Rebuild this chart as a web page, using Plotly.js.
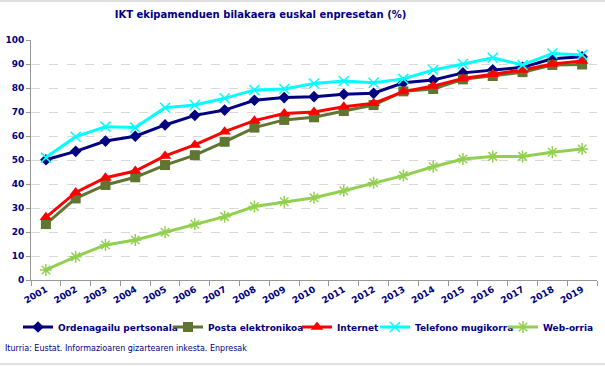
<!DOCTYPE html>
<html><head><meta charset="utf-8">
<script src="https://cdn.plot.ly/plotly-3.0.1.min.js"></script>
<style>html,body{margin:0;padding:0;background:#fff}#c{width:605px;height:366px}
#frame{position:absolute;left:0;top:0;width:605px;height:365px;border-top:2px solid #e0e0e0;border-bottom:2px solid #e0e0e0;box-sizing:border-box;pointer-events:none}</style>
</head><body><div id="c"></div><div id="frame"></div>
<script>
const years = ['2001','2002','2003','2004','2005','2006','2007','2008','2009','2010','2011','2012','2013','2014','2015','2016','2017','2018','2019'];
const ordenagailua = [50.1,53.6,57.9,59.9,64.6,68.6,70.8,74.9,76.0,76.4,77.4,77.8,82.2,83.3,86.3,87.6,88.6,92.2,93.0];
const posta = [23.3,34.0,39.6,42.8,47.9,52.0,57.6,63.5,66.7,67.8,70.4,72.9,78.6,79.6,83.6,85.0,86.6,89.6,89.8];
const internet = [26.1,36.5,42.6,45.4,51.7,56.3,61.8,66.4,69.4,70.0,72.2,73.6,78.5,80.8,84.0,85.7,87.5,90.0,91.3];
const telefonoa = [51.0,59.7,63.9,63.5,71.8,72.9,75.7,79.2,79.6,81.9,82.9,82.2,83.8,87.5,90.0,92.6,89.6,94.4,93.8];
const weba = [4.2,9.7,14.6,16.7,19.9,23.2,26.4,30.6,32.6,34.3,37.2,40.5,43.5,47.2,50.4,51.5,51.5,53.2,54.6];
const names = ['Ordenagailu pertsonala','Posta elektronikoa','Internet','Telefono mugikorra','Web-orria'];

const navy = '#000080';
const FONT = 'DejaVu Sans, Verdana, sans-serif';
function tr(y, name, color, symbol, msize, mline, leg){
  return {x: years, y: y, name: name, type:'scatter', mode:'lines+markers',
    line:{color:color, width:3},
    marker:{color:color, symbol:symbol, size:msize, line:{color:color, width:mline||0}},
    legend: leg, hoverinfo:'skip'};
}
const data = [
  tr(ordenagailua, names[0], navy, 'diamond', 9, 0, 'legend'),
  tr(posta, names[1], '#5f7530', 'square', 10, 0, 'legend2'),
  tr(internet, names[2], '#ff0000', 'triangle-up', 11, 0, 'legend3'),
  tr(telefonoa, names[3], '#00ffff', 'x-thin-open', 10, 1.5, 'legend4'),
  tr(weba, names[4], '#92d050', 'asterisk-open', 10, 1.5, 'legend5')
];
const tf = {family:FONT, size:9, color:navy, weight:'bold'};
const legFont = {family:FONT, size:9, color:navy, weight:'bold'};
function leg(textStart){
  return {orientation:'h', xref:'container', yref:'container', x:(textStart-39)/605, xanchor:'left',
    y:1-327/366, yanchor:'middle', font:legFont, itemwidth:30, bgcolor:'rgba(0,0,0,0)'};
}
const layout = {
  width:605, height:366,
  margin:{l:31, r:8, t:40, b:86, autoexpand:false},
  paper_bgcolor:'#fff', plot_bgcolor:'#fff',
  title:{text:'IKT ekipamenduen bilakaera euskal enpresetan (%)', xref:'container', x:260.5/605, xanchor:'center', y:1-14/366, yanchor:'middle', yref:'container',
    font:{family:FONT, size:10, color:navy, weight:'bold'}},
  xaxis:{type:'category', range:[-0.5,18.5], tickangle:-30, tickfont:tf,
    showline:true, linecolor:'#999', linewidth:1, ticks:'outside', ticklen:5, tickcolor:'#999',
    tickson:'boundaries', showgrid:false, zeroline:false},
  yaxis:{range:[0,100], dtick:10, tickfont:tf, showline:true, linecolor:'#999', linewidth:1,
    ticks:'outside', ticklen:4, tickcolor:'#999',
    gridcolor:'#d9d9d9', griddash:'dash', gridwidth:1, zeroline:false},
  showlegend:true,
  legend:leg(57), legend2:leg(207), legend3:leg(336), legend4:leg(414), legend5:leg(542),
  annotations:[{text:'Iturria: Eustat. Informazioaren gizartearen inkesta. Enpresak', xref:'paper', yref:'paper',
    x:(3-31)/566, y:(280-348)/240, xanchor:'left', yanchor:'middle', showarrow:false,
    font:{family:FONT, size:8, color:navy}}]
};
Plotly.newPlot('c', data, layout, {displayModeBar:false, staticPlot:true});
</script></body></html>
